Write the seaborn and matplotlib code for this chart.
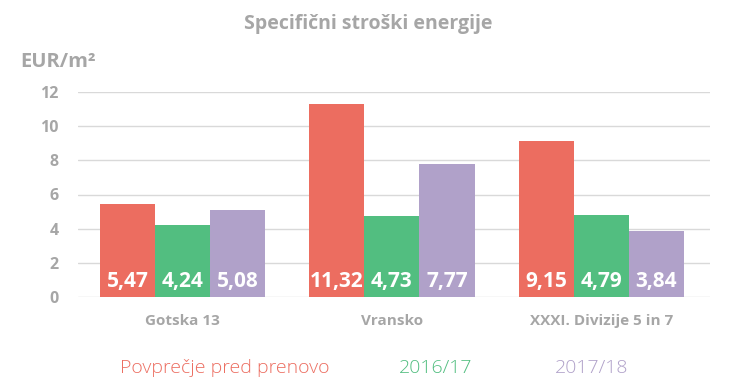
import matplotlib
matplotlib.use("Agg")
import matplotlib.pyplot as plt
import seaborn as sns
import pandas as pd

categories = ["Gotska 13", "Vransko", "XXXI. Divizije 5 in 7"]
series_names = ["Povprečje pred prenovo", "2016/17", "2017/18"]
before = [5.47, 11.32, 9.15]
y1617 = [4.24, 4.73, 4.79]
y1718 = [5.08, 7.77, 3.84]
yticks = [0, 2, 4, 6, 8, 10, 12]
colors = ["#EC6D60", "#52BE80", "#B0A1C9"]

rows = []
for name, vals in zip(series_names, [before, y1617, y1718]):
    for c, v in zip(categories, vals):
        rows.append({"cat": c, "series": name, "val": v})
df = pd.DataFrame(rows)

sns.set_theme(style="white")
plt.rcParams['font.family'] = ['Open Sans', 'DejaVu Sans']

fig = plt.figure(figsize=(7.39, 3.91), dpi=100)
ax = fig.add_axes([78/739, 1-297/391, (710-78)/739, (297-92)/391])

sns.barplot(data=df, x="cat", y="val", hue="series", palette=colors,
            width=0.79, gap=0, saturation=1, ax=ax, legend=False, errorbar=None,
            linewidth=0, edgecolor="none")

ax.set_xlim(-0.5, 2.52)
ax.set_ylim(0, 12)
ax.set_yticks(yticks)
ax.set_yticklabels([str(t) for t in yticks])
ax.yaxis.grid(True, color="#d9d9d9", linewidth=1)
ax.set_axisbelow(True)
for s in ax.spines.values():
    s.set_visible(False)
ax.tick_params(axis="y", length=0, pad=14, labelsize=11.5, labelcolor="#a6a6a6")
ax.tick_params(axis="x", length=0, pad=12, labelsize=11, labelcolor="#a6a6a6")
for lbl in ax.get_xticklabels() + ax.get_yticklabels():
    lbl.set_fontweight("bold")
ax.set_xlabel("")
ax.set_ylabel("")

for cont in ax.containers:
    for p, v in zip(cont.patches, cont.datavalues):
        ax.text(p.get_x() + p.get_width()/2, 0.9, f"{v:.2f}".replace(".", ","),
                ha="center", va="center", color="white", fontsize=15,
                fontweight="bold")

fig.text(368/739, 1 - 24/391, "Specifični stroški energije",
         ha="center", va="center", fontsize=14, fontweight="bold", color="#a6a6a6")
fig.text(20/739, 1 - 62/391, "EUR/m²", ha="left", va="center", fontsize=14.5,
         fontweight="bold", color="#a6a6a6")

legend_x = [120, 399, 555]
for name, col, lx in zip(series_names, colors, legend_x):
    fig.text(lx/739, 1 - 368/391, name, ha="left", va="center", fontsize=14,
             color=col, fontweight="light")

fig.savefig("out.png", dpi=100)
